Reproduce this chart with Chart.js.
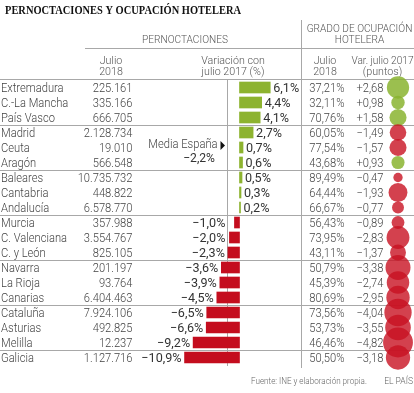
<!DOCTYPE html>
<html>
<head>
<meta charset="utf-8">
<script src="https://cdn.jsdelivr.net/npm/chart.js@4.4.1/dist/chart.umd.min.js"></script>
<style>
  body { margin: 0; background: #fff; overflow: hidden; }
  #wrap { position: relative; width: 414px; height: 393px; overflow: hidden; }
  canvas { position: absolute; top: 0; }
</style>
</head>
<body>
<div id="wrap">
  <canvas id="main" width="414" height="393" style="left:0"></canvas>
  <canvas id="bubbles" width="40" height="393" style="left:378px"></canvas>
</div>
<script>
// data
const regions = ['Extremadura', 'C.-La Mancha', 'País Vasco', 'Madrid', 'Ceuta', 'Aragón',
  'Baleares', 'Cantabria', 'Andalucía', 'Murcia', 'C. Valenciana', 'C. y León',
  'Navarra', 'La Rioja', 'Canarias', 'Cataluña', 'Asturias', 'Melilla', 'Galicia'];
const pernoctaciones = [225161, 335166, 666705, 2128734, 19010, 566548, 10735732, 448822, 6578770,
  357988, 3554767, 825105, 201197, 93764, 6404463, 7924106, 492825, 12237, 1127716];
const variacion = [6.1, 4.4, 4.1, 2.7, 0.7, 0.6, 0.5, 0.3, 0.2, -1.0, -2.0, -2.3,
  -3.6, -3.9, -4.5, -6.5, -6.6, -9.2, -10.9];
const ocupacion = [37.21, 32.11, 70.76, 60.05, 77.54, 43.68, 89.49, 64.44, 66.67, 56.43,
  73.95, 43.11, 50.79, 45.39, 80.69, 73.56, 53.73, 46.46, 50.50];
const varPuntos = [2.68, 0.98, 1.58, -1.49, -1.57, 0.93, -0.47, -1.93, -0.77, -0.89,
  -2.83, -1.37, -3.38, -2.74, -2.95, -4.04, -3.55, -4.82, -3.18];
const mediaEspana = -2.2;

const GREEN = '#8db32f';
const RED = '#c40d1e';

// number formatting, spanish style
function miles(n) {
  return String(n).replace(/\B(?=(\d{3})+(?!\d))/g, '.');
}
function dec(v, d, plus) {
  const s = Math.abs(v).toFixed(d).replace('.', ',');
  if (v < 0) return '\u2212' + s;
  return (plus ? '+' : '') + s;
}

// draw text, slightly condensed
function txt(ctx, s, x, y, align, size, color, sx, weight) {
  ctx.save();
  ctx.font = (weight || '300') + ' ' + size + 'px Roboto';
  ctx.fillStyle = color;
  ctx.textAlign = align;
  ctx.textBaseline = 'alphabetic';
  ctx.translate(x, y);
  ctx.scale(sx || 0.93, 1);
  ctx.fillText(s, 0, 0);
  ctx.restore();
}

function hline(ctx, x1, x2, y) {
  ctx.beginPath();
  ctx.moveTo(x1, y);
  ctx.lineTo(x2, y);
  ctx.stroke();
}
function vline(ctx, x, y1, y2) {
  ctx.beginPath();
  ctx.moveTo(x, y1);
  ctx.lineTo(x, y2);
  ctx.stroke();
}

const tablePlugin = {
  id: 'tabla',
  beforeDatasetsDraw(chart) {
    const ctx = chart.ctx;
    const x = chart.scales.x, y = chart.scales.y;
    ctx.save();
    ctx.strokeStyle = '#a8a8a8';
    ctx.lineWidth = 1;
    hline(ctx, 85, 414, 48.5);
    hline(ctx, 0, 414, 79.5);
    for (let k = 3; k < regions.length; k += 3) {
      hline(ctx, 0, 414, Math.round(y.getPixelForValue(k - 0.5)) + 0.5);
    }
    vline(ctx, 301.5, 20, 368);
    // media España
    const ax = Math.round(x.getPixelForValue(mediaEspana)) - 0.5;
    vline(ctx, ax, chart.chartArea.top, chart.chartArea.bottom + 1);
    ctx.restore();
  },
  afterDatasetsDraw(chart) {
    const ctx = chart.ctx;
    const x = chart.scales.x, y = chart.scales.y;
    const ax = x.getPixelForValue(mediaEspana);

    // title
    ctx.save();
    ctx.font = 'bold 13px "Liberation Serif"';
    ctx.fillStyle = '#111';
    ctx.fillText('PERNOCTACIONES Y OCUPACIÓN HOTELERA', 5, 14, 236);
    ctx.restore();

    const hc = '#555';
    txt(ctx, 'PERNOCTACIONES', 185, 43, 'center', 11.5, hc, 0.88);
    txt(ctx, 'GRADO DE OCUPACIÓN', 359.5, 32, 'center', 11.5, hc, 0.88);
    txt(ctx, 'HOTELERA', 359.5, 43, 'center', 11.5, hc, 0.88);
    txt(ctx, 'Julio', 111, 64, 'center', 11.5, hc);
    txt(ctx, '2018', 111, 75, 'center', 11.5, hc);
    txt(ctx, 'Variación con', 233, 64, 'center', 11.5, hc);
    txt(ctx, 'julio 2017 (%)', 233, 75, 'center', 11.5, hc);
    txt(ctx, 'Julio', 325, 64, 'center', 11.5, hc);
    txt(ctx, '2018', 325, 75, 'center', 11.5, hc);
    txt(ctx, 'Var. julio 2017', 382.5, 64, 'center', 11.5, hc, 0.88);
    txt(ctx, '(puntos)', 382.5, 75, 'center', 11.5, hc);

    const tc = '#444';
    regions.forEach(function(r, i) {
      const by = y.getPixelForValue(i) + 4.5;
      txt(ctx, r, 1, by, 'left', 12, tc);
      txt(ctx, miles(pernoctaciones[i]), 132.5, by, 'right', 12, tc);
      txt(ctx, dec(ocupacion[i], 2) + '%', 344.5, by, 'right', 12, tc);
      txt(ctx, dec(varPuntos[i], 2, true), 383.5, by, 'right', 12, tc);
      const v = variacion[i];
      const px = x.getPixelForValue(v);
      if (v >= 0) {
        txt(ctx, dec(v, 1) + '%', px + 3, by, 'left', 13, '#333', 0.97, 'normal');
      } else {
        txt(ctx, dec(v, 1) + '%', Math.min(px, ax) - 3, by, 'right', 13, '#333', 0.97, 'normal');
      }
    });

    // media España label
    txt(ctx, 'Media España', 217.5, 148, 'right', 12, tc);
    ctx.save();
    ctx.fillStyle = '#111';
    ctx.beginPath();
    ctx.moveTo(220.5, 141);
    ctx.lineTo(225, 145.5);
    ctx.lineTo(220.5, 150);
    ctx.closePath();
    ctx.fill();
    ctx.restore();
    txt(ctx, dec(mediaEspana, 1) + '%', 215, 161.5, 'right', 12.5, '#333', 0.97, 'normal');

    // footer
    txt(ctx, 'Fuente: INE y elaboración propia.', 251, 384, 'left', 9, '#666', 0.9);
    txt(ctx, 'EL PAÍS', 413, 384, 'right', 9, '#666', 0.95);
  }
};

new Chart(document.getElementById('main'), {
  type: 'bar',
  data: {
    labels: regions,
    datasets: [{
      data: variacion,
      backgroundColor: function(c) { return c.raw >= 0 ? GREEN : RED; },
      borderWidth: 0,
      barThickness: 11,
    }]
  },
  options: {
    indexAxis: 'y',
    responsive: false,
    animation: false,
    events: [],
    layout: { padding: { left: 179, right: 114, top: 80, bottom: 28 } },
    plugins: { legend: { display: false }, tooltip: { enabled: false } },
    scales: {
      x: { type: 'linear', min: -12, max: 12, display: false },
      y: { display: false, offset: true },
    },
  },
  plugins: [tablePlugin],
});

// circles: area grows with the change in points
new Chart(document.getElementById('bubbles'), {
  type: 'bubble',
  data: {
    datasets: [{
      data: varPuntos.map(function(v, i) {
        return { x: 0, y: regions[i], r: 6.8 * Math.sqrt(Math.abs(v)) };
      }),
      backgroundColor: function(c) {
        return varPuntos[c.dataIndex] >= 0 ? 'rgba(138,180,48,0.85)' : 'rgba(200,18,34,0.8)';
      },
      borderWidth: 0,
      clip: false,
    }]
  },
  options: {
    responsive: false,
    animation: false,
    events: [],
    layout: { padding: { left: 0, right: 0, top: 80, bottom: 28 } },
    plugins: { legend: { display: false }, tooltip: { enabled: false } },
    scales: {
      x: { type: 'linear', min: -1, max: 1, display: false },
      y: { type: 'category', labels: regions, offset: true, display: false },
    },
  },
});
</script>
</body>
</html>
